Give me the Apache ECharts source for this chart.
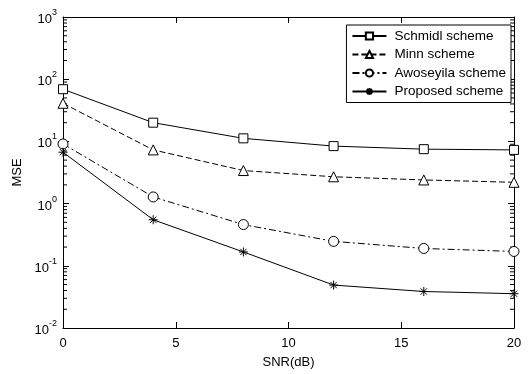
<!DOCTYPE html>
<html>
<head>
<meta charset="utf-8">
<script src="https://cdn.jsdelivr.net/npm/echarts@6/dist/echarts.min.js"></script>
<style>
  html, body { margin: 0; padding: 0; background: #fff; }
  #chart { width: 528px; height: 374px; }
</style>
</head>
<body>
<div id="chart"></div>
<script>
// SNR points (dB)
const snr = [0, 4, 8, 12, 16, 20]

// MSE per scheme
const schmidl = [69, 20, 11.2, 8.4, 7.5, 7.3]
const minn = [41, 7.3, 3.4, 2.7, 2.4, 2.2]
const awoseyila = [9.1, 1.28, 0.46, 0.247, 0.19, 0.17]
const proposed = [6.7, 0.55, 0.167, 0.049, 0.0386, 0.0356]

const seriesNames = ['Schmidl scheme', 'Minn scheme', 'Awoseyila scheme', 'Proposed scheme']
const xTicks = [0, 5, 10, 15, 20]
const decades = [0.01, 0.1, 1, 10, 100, 1000]
const decadeExp = { 0.01: '-2', 0.1: '-1', 1: '0', 10: '1', 100: '2', 1000: '3' }

// 2..9 within each decade, drawn on both side edges
const minorTicks = []
decades.slice(0, -1).forEach(d => {
  for (let k = 2; k <= 9; k++) minorTicks.push(+(d * k).toPrecision(3))
})
const tickEdges = [0, 20]

const font = 'Liberation Sans'
const asterisk = 'path://M0,-10L0,10M-10,0L10,0M-7,-7L7,7M-7,7L7,-7'

const chart = echarts.init(document.getElementById('chart'))

const pairs = arr => snr.map((x, i) => [x, arr[i]])

const mkSeries = (name, data, symbol, size, dash) => ({
  name,
  type: 'line',
  data: pairs(data),
  symbol,
  symbolSize: size,
  showSymbol: true,
  lineStyle: { color: '#000', width: 1, type: dash },
  itemStyle: { color: '#fff', borderColor: '#000', borderWidth: 1 },
  emphasis: { disabled: true },
  z: 3,
})

const minorTickData = []
tickEdges.forEach(x => minorTicks.forEach(v => minorTickData.push([x, v])))

const tick = len => ({ show: true, inside: true, length: len, lineStyle: { color: '#000', width: 1 } })

const logAxis = (pos, opts) => Object.assign({
  type: 'log',
  logBase: 10,
  min: 0.01,
  max: 1000,
  position: pos,
  axisLine: { show: true, onZero: false, lineStyle: { color: '#000', width: 1 } },
  axisTick: tick(6),
  splitLine: { show: false },
  minorTick: { show: false },
  axisLabel: { show: false },
}, opts)

const option = {
  animation: false,
  backgroundColor: '#fff',
  textStyle: { fontFamily: font },
  grid: { left: 63, right: 14, top: 17, bottom: 42 },
  legend: {
    data: seriesNames,
    right: 17,
    top: 25,
    orient: 'vertical',
    backgroundColor: '#fff',
    borderColor: '#000',
    borderWidth: 1,
    borderRadius: 0,
    padding: [4, 5, 4, 5],
    itemWidth: 34,
    itemHeight: 9,
    itemGap: 4.5,
    textStyle: { fontFamily: font, fontSize: 13.5, lineHeight: 13, color: '#000', padding: [0, 0, 0, 3] },
  },
  xAxis: [
    {
      type: 'value',
      min: 0,
      max: 20,
      interval: 5,
      position: 'bottom',
      name: 'SNR(dB)',
      nameLocation: 'middle',
      nameGap: 28,
      nameTextStyle: { fontFamily: font, fontSize: 13, color: '#000' },
      axisLine: { show: true, onZero: false, lineStyle: { color: '#000', width: 1 } },
      axisTick: tick(6),
      axisLabel: { color: '#000', fontSize: 13, fontFamily: font, margin: 9,
        customValues: xTicks },
      splitLine: { show: false },
    },
    {
      type: 'value',
      min: 0,
      max: 20,
      interval: 5,
      position: 'top',
      axisLine: { show: true, onZero: false, lineStyle: { color: '#000', width: 1 } },
      axisTick: tick(6),
      axisLabel: { show: false },
      splitLine: { show: false },
    },
  ],
  yAxis: [
    logAxis('left', {
      name: 'MSE',
      nameLocation: 'middle',
      nameRotate: 90,
      nameGap: 35,
      nameTextStyle: { fontFamily: font, fontSize: 13, color: '#000' },
      axisLabel: {
        show: true,
        margin: 6,
        formatter: v => '{b|10}{s|' + decadeExp[+v.toPrecision(3)] + '}',
        rich: {
          b: { fontSize: 13, fontFamily: font, color: '#000', lineHeight: 18, verticalAlign: 'bottom' },
          s: { fontSize: 9, fontFamily: font, color: '#000', lineHeight: 18, verticalAlign: 'top' },
        },
      },
    }),
    logAxis('right', {}),
  ],
  series: [
    {
      type: 'custom',
      silent: true,
      data: minorTickData,
      renderItem: (params, api) => {
        const p = api.coord([api.value(0), api.value(1)])
        const dir = api.value(0) === 0 ? 1 : -1
        return {
          type: 'line',
          shape: { x1: p[0], y1: p[1], x2: p[0] + dir * 4, y2: p[1] },
          style: { stroke: '#000', lineWidth: 1 },
        }
      },
    },
    mkSeries(seriesNames[0], schmidl, 'rect', 9, 'solid'),
    mkSeries(seriesNames[1], minn, 'triangle', 10, [6, 3]),
    mkSeries(seriesNames[2], awoseyila, 'circle', 10, [7, 3, 2, 3]),
    mkSeries(seriesNames[3], proposed, asterisk, 9, 'solid'),
  ],
}

chart.setOption(option)
</script>
</body>
</html>
